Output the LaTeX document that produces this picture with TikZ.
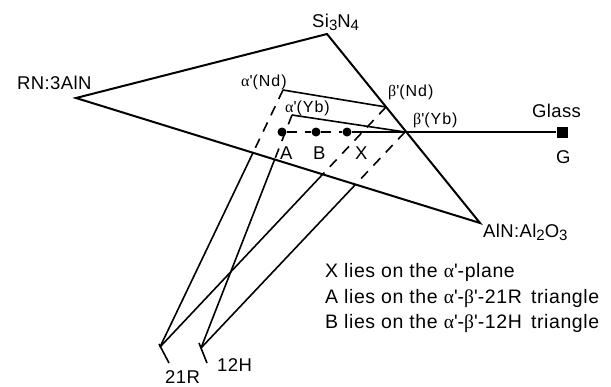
\documentclass[tikz,border=0pt]{standalone}
\usepackage{fontspec}
\setmainfont{Liberation Sans}
\newfontfamily\greekfont{Liberation Serif}
\usepackage{tikz}
\usetikzlibrary{calc}
\newcommand{\lowidx}[1]{\raisebox{-0.35ex}{\fontsize{15}{15}\selectfont #1}}
\newcommand{\phprime}{\textquotesingle}
\newcommand{\alp}{{\greekfont α}\phprime}
\newcommand{\bet}{{\greekfont β}\phprime}
\tikzset{
    sideline/.style={line width=2pt, line join=miter},
    tieline/.style={line width=1.6pt},
    hiddenline/.style={line width=1.6pt, dash pattern=on 10pt off 8pt},
    dotnode/.style={circle, fill=black, minimum size=9pt, inner sep=0pt},
    glassnode/.style={rectangle, fill=black, minimum size=11pt, inner sep=0pt},
    biglabel/.style={font=\fontsize{18.5}{20}\selectfont\addfontfeatures{LetterSpace=2}, inner sep=0pt, anchor=base west},
    notelabel/.style={font=\fontsize{19.5}{22}\selectfont\addfontfeatures{LetterSpace=3}, inner sep=0pt, anchor=base west},
    smalllabel/.style={font=\fontsize{16}{17}\selectfont\addfontfeatures{LetterSpace=6}, inner sep=0pt, anchor=base west},
}

\begin{document}
\begin{tikzpicture}[x=1pt, y=-1pt]
    \useasboundingbox (0,0) rectangle (611,386);

    % corners of the triangle
    \coordinate (rn) at (76,98);
    \coordinate (si) at (327,34);
    \coordinate (aln) at (480,223);
    % alpha', beta' and the polytypoids
    \coordinate (aNd) at (283,90);
    \coordinate (aYb) at (292,115);
    \coordinate (bNd) at (386,107);
    \coordinate (bYb) at (405,132);
    \coordinate (r21) at (160,347);
    \coordinate (h12) at (201,348);
    % where the lines come out from under the front edge
    \coordinate (cNdA) at (intersection of rn--aln and aNd--r21);
    \coordinate (cYbA) at (intersection of rn--aln and aYb--h12);
    \coordinate (cNdB) at (intersection of rn--aln and bNd--r21);
    \coordinate (cYbB) at (intersection of rn--aln and bYb--h12);

    \node[dotnode] (A) at (282,132) {};
    \node[dotnode] (B) at (316,132) {};
    \node[dotnode] (X) at (347,132) {};
    \node[glassnode] (G) at (562,132) {};

    \draw[sideline] (rn) -- (si) -- (aln) -- cycle;

    \draw[tieline] (aNd) -- (bNd);
    \draw[tieline] (aYb) -- (bYb);
    \draw[hiddenline] (aNd) -- (cNdA);
    \draw[tieline] (cNdA) -- (r21);
    \draw[hiddenline] (aYb) -- (cYbA);
    \draw[tieline] (cYbA) -- (h12);
    \draw[hiddenline] (bNd) -- (cNdB);
    \draw[tieline] (cNdB) -- (r21);
    \draw[hiddenline] (bYb) -- (cYbB);
    \draw[tieline] (cYbB) -- (h12);
    \draw[hiddenline] (A) -- (B) -- (X);
    \draw[tieline] (X) -- (G);
    \draw[tieline] ($(r21)+(-1,-3)$) -- ($(r21)+(9,16)$);
    \draw[tieline] ($(h12)+(-2,-5)$) -- ($(h12)+(6,15)$);

    \node[biglabel] (siLbl) at (312,27) {Si\lowidx{3}N\lowidx{4}};
    \node[biglabel] (rnLbl) at (17,89) {RN:3AlN};
    \node[biglabel] (alnLbl) at (483,237) {AlN:Al\lowidx{2}O\lowidx{3}};
    \node[smalllabel] (aNdLbl) at (241,86) {\alp(Nd)};
    \node[smalllabel] (aYbLbl) at (285,112) {\alp(Yb)};
    \node[smalllabel] (bNdLbl) at (388,96) {\bet(Nd)};
    \node[smalllabel] (bYbLbl) at (413,124) {\bet(Yb)};
    \node[biglabel] (glassLbl) at (532,117) {Glass};
    \node[biglabel] (gLbl) at (556,163) {G};
    \node[biglabel] (aLbl) at (280,159) {A};
    \node[biglabel] (bLbl) at (313,159) {B};
    \node[biglabel] (xLbl) at (355,159) {X};
    \node[biglabel] (rLbl) at (165,383) {21R};
    \node[biglabel] (hLbl) at (217,371) {12H};

    \node[notelabel] (noteX) at (325,277) {X lies on the \alp-plane};
    \node[notelabel] (noteA) at (325,303) {A lies on the \alp-\bet-21R\ \,triangle};
    \node[notelabel] (noteB) at (325,328) {B lies on the \alp-\bet-12H\ \,triangle};
\end{tikzpicture}
\end{document}
